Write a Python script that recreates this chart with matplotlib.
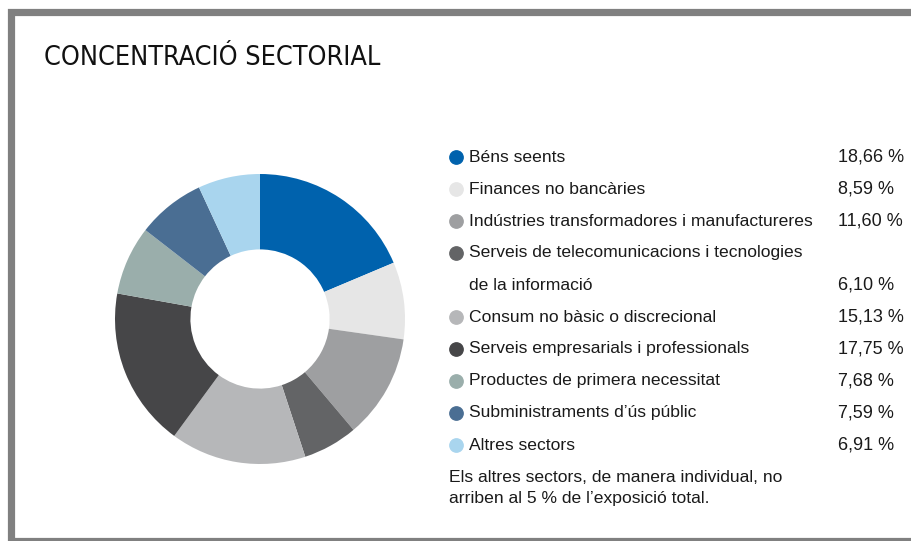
import matplotlib
matplotlib.use("Agg")
import matplotlib.pyplot as plt
from matplotlib.patches import Rectangle

title = "CONCENTRACIÓ SECTORIAL"
sectors = [
    "Béns seents",
    "Finances no bancàries",
    "Indústries transformadores i manufactureres",
    "Serveis de telecomunicacions i tecnologies\nde la informació",
    "Consum no bàsic o discrecional",
    "Serveis empresarials i professionals",
    "Productes de primera necessitat",
    "Subministraments d\u2019ús públic",
    "Altres sectors",
]
shares = [18.66, 8.59, 11.60, 6.10, 15.13, 17.75, 7.68, 7.59, 6.91]
colors = ["#0062ad", "#e6e6e6", "#9e9fa1", "#636466", "#b6b7b9",
          "#464648", "#9aaeab", "#4a6e93", "#a9d5ee"]
note = "Els altres sectors, de manera individual, no\narriben al 5 % de l\u2019exposició total."

W, H = 912, 541
plt.rcParams['font.family'] = ['Liberation Sans', 'DejaVu Sans']
fig = plt.figure(figsize=(W / 100, H / 100), dpi=100)

def fx(x):
    return x / W

def fy(y):
    return 1 - y / H

# grey frame
fig.patches.append(Rectangle((fx(11.5), fy(540.5)), fx(930) - fx(11.5), fy(11.5) - fy(540.5),
                             transform=fig.transFigure, fill=False,
                             edgecolor="#808080", linewidth=5.2))

fig.text(fx(44), fy(58), title, fontsize=19.4, va='center', ha='left', color='#111111',
         family=['DejaVu Sans'], fontstretch='condensed')

# donut
cx, cy, R = 260, 319, 145
ax = fig.add_axes([fx(cx - R), fy(cy + R), fx(2 * R), (2 * R) / H])
ax.pie(shares, colors=colors, startangle=90, counterclock=False,
       wedgeprops=dict(width=0.52, linewidth=0))
ax.set_xlim(-1, 1)
ax.set_ylim(-1, 1)
ax.set_aspect('equal')
ax.axis('off')

# legend rows
y = 157
step = 32
for name, v, c in zip(sectors, shares, colors):
    lines = name.split("\n")
    fig.lines.append(plt.Line2D([fx(456)], [fy(y)], marker='o', markersize=9.6,
                                color=c, linestyle='none', transform=fig.transFigure))
    for i, ln in enumerate(lines):
        fig.text(fx(469), fy(y + i * step), ln, fontsize=12.6, va='center', ha='left', color='#1a1a1a')
    yv = y + (len(lines) - 1) * step
    fig.text(fx(838), fy(yv), f"{v:.2f}".replace('.', ',') + " %", fontsize=13,
             va='center', ha='left', color='#1a1a1a')
    y += len(lines) * step

fig.text(fx(449), fy(477), note.split("\n")[0], fontsize=12.6, va='center', ha='left', color='#1a1a1a')
fig.text(fx(449), fy(498), note.split("\n")[1], fontsize=12.6, va='center', ha='left', color='#1a1a1a')

fig.savefig("out.png", dpi=100)
